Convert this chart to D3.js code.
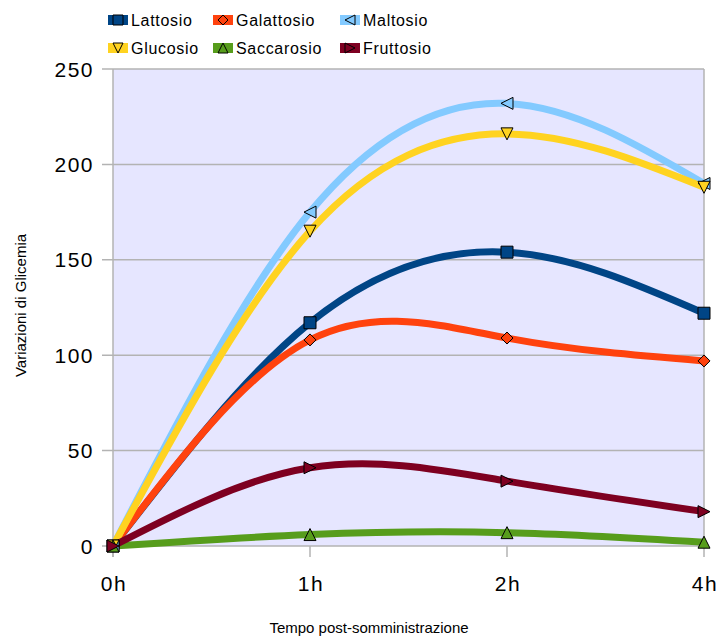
<!DOCTYPE html>
<html>
<head>
<meta charset="utf-8">
<script src="https://cdn.jsdelivr.net/npm/d3@7"></script>
<style>
  body { margin: 0; background: #fff; }
  text { font-family: "Liberation Sans", Arial, sans-serif; fill: #000; }
</style>
</head>
<body>
<div id="chart"></div>
<script>
////////////////////
// DATA
var categories = ["0h", "1h", "2h", "4h"];
var lattosio   = [0, 117, 154, 122];
var galattosio = [0, 108, 109, 97];
var maltosio   = [0, 175, 232, 190];
var glucosio   = [0, 165, 216, 188];
var saccarosio = [0, 6, 7, 2];
var fruttosio  = [0, 41, 34, 18];
var yTicks = [0, 50, 100, 150, 200, 250];

var series = [
  { name: "Lattosio",   values: lattosio,   color: "#004586", shape: "square" },
  { name: "Galattosio", values: galattosio, color: "#ff420e", shape: "diamond" },
  { name: "Maltosio",   values: maltosio,   color: "#83caff", shape: "left" },
  { name: "Glucosio",   values: glucosio,   color: "#ffd320", shape: "down" },
  { name: "Saccarosio", values: saccarosio, color: "#579d1c", shape: "up" },
  { name: "Fruttosio",  values: fruttosio,  color: "#7e0021", shape: "right" }
];

//////////////////
// LAYOUT
var w = 728, h = 637;
var margin = { top: 69, right: 24, bottom: 91, left: 113 };
var width = w - margin.left - margin.right;
var height = h - margin.top - margin.bottom;

var svg = d3.select("#chart").append("svg")
  .attr("width", w)
  .attr("height", h);

var x = d3.scalePoint().domain(categories).range([0, width]).padding(0);
var y = d3.scaleLinear().domain([0, 250]).range([height, 0]);

var g = svg.append("g")
  .attr("transform", "translate(" + margin.left + "," + margin.top + ")");

// plot background
g.append("rect")
  .attr("width", width).attr("height", height)
  .attr("fill", "#e6e6ff");

// grid
g.selectAll(".grid").data(yTicks).enter().append("line")
  .attr("x1", -11).attr("x2", width)
  .attr("y1", function(d) { return y(d); })
  .attr("y2", function(d) { return y(d); })
  .attr("stroke", "#b3b3b3").attr("stroke-width", 1.5);

// right border + left axis line
g.append("line").attr("x1", width).attr("x2", width).attr("y1", 0).attr("y2", height)
  .attr("stroke", "#b3b3b3").attr("stroke-width", 1.5);
g.append("line").attr("x1", 0).attr("x2", 0).attr("y1", 0).attr("y2", height + 11)
  .attr("stroke", "#b3b3b3").attr("stroke-width", 1.5);

// x ticks
g.selectAll(".xtick").data(categories).enter().append("line")
  .attr("x1", function(d) { return x(d); })
  .attr("x2", function(d) { return x(d); })
  .attr("y1", height).attr("y2", height + 11)
  .attr("stroke", "#b3b3b3").attr("stroke-width", 1.5);

// tick labels
g.selectAll(".ylab").data(yTicks).enter().append("text")
  .attr("x", -19)
  .attr("y", function(d) { return y(d); })
  .attr("dy", "0.36em")
  .attr("text-anchor", "end")
  .style("font-size", "21px")
  .style("letter-spacing", "1.5px")
  .text(function(d) { return d; });

g.selectAll(".xlab").data(categories).enter().append("text")
  .attr("x", function(d) { return x(d) + 1; })
  .attr("y", height + 45)
  .attr("text-anchor", "middle")
  .style("font-size", "21px")
  .style("letter-spacing", "1.5px")
  .text(function(d) { return d; });

// axis titles
svg.append("text")
  .attr("transform", "translate(26," + (margin.top + height / 2 - 2) + ") rotate(-90)")
  .attr("text-anchor", "middle")
  .style("font-size", "15px")
  .text("Variazioni di Glicemia");

svg.append("text")
  .attr("x", 369).attr("y", 633)
  .attr("text-anchor", "middle")
  .style("font-size", "15px")
  .text("Tempo post-somministrazione");

////////////////////
// SYMBOLS
function markerPath(shape, s) {
  var r = s / 2;
  switch (shape) {
    case "square":  return "M" + (-r) + "," + (-r) + "h" + s + "v" + s + "h" + (-s) + "Z";
    case "diamond": return "M0," + (-r) + "L" + r + ",0L0," + r + "L" + (-r) + ",0Z";
    case "left":    return "M" + (-r) + ",0L" + r + "," + (-r) + "L" + r + "," + r + "Z";
    case "right":   return "M" + r + ",0L" + (-r) + "," + (-r) + "L" + (-r) + "," + r + "Z";
    case "up":      return "M0," + (-r) + "L" + r + "," + r + "L" + (-r) + "," + r + "Z";
    case "down":    return "M0," + r + "L" + r + "," + (-r) + "L" + (-r) + "," + (-r) + "Z";
  }
}

//////////////////
// LINES
var line = d3.line()
  .x(function(d, i) { return x(categories[i]); })
  .y(function(d) { return y(d); })
  .curve(d3.curveNatural);

series.forEach(function(s) {
  g.append("path")
    .attr("d", line(s.values))
    .attr("fill", "none")
    .attr("stroke", s.color)
    .attr("stroke-width", 7);
});

series.forEach(function(s) {
  g.selectAll(null).data(s.values).enter().append("path")
    .attr("transform", function(d, i) { return "translate(" + x(categories[i]) + "," + y(d) + ")"; })
    .attr("d", markerPath(s.shape, 12))
    .attr("fill", s.color)
    .attr("stroke", "#000")
    .attr("stroke-width", 1);
});

//////////////////
// LEGEND
var legendX = [108, 213, 340];
var legendY = [20, 48];
series.forEach(function(s, i) {
  var lx = legendX[i % 3], ly = legendY[Math.floor(i / 3)];
  var lg = svg.append("g").attr("transform", "translate(" + lx + "," + ly + ")");
  lg.append("rect")
    .attr("x", 0).attr("y", -5).attr("width", 20).attr("height", 10)
    .attr("fill", s.color);
  lg.append("path")
    .attr("transform", "translate(10,0)")
    .attr("d", markerPath(s.shape, 10))
    .attr("fill", s.color)
    .attr("stroke", "#000").attr("stroke-width", 1);
  lg.append("text")
    .attr("x", 23).attr("y", 0).attr("dy", "0.36em")
    .style("font-size", "16px")
    .style("letter-spacing", "0.7px")
    .text(s.name);
});
</script>
</body>
</html>
